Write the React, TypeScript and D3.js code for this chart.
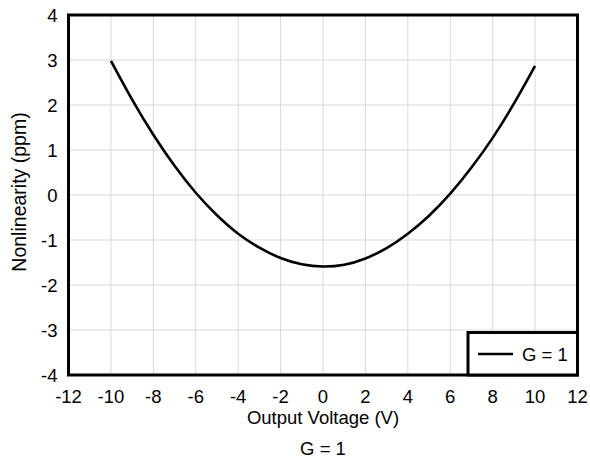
import React from "react";
import * as d3 from "d3";

const xValues = [-10, -9, -8, -7, -6, -5, -4, -3, -2, -1, 0, 1, 2, 3, 4, 5, 6, 7, 8, 9, 10];
const yValues = [2.98, 2.12, 1.34, 0.65, 0.05, -0.45, -0.86, -1.17, -1.4, -1.54, -1.59, -1.55, -1.41, -1.18, -0.86, -0.46, 0.03, 0.61, 1.27, 2.03, 2.87];
const xTicks = [-12, -10, -8, -6, -4, -2, 0, 2, 4, 6, 8, 10, 12];
const yTicks = [-4, -3, -2, -1, 0, 1, 2, 3, 4];
const seriesName = "G = 1";

const W = 590, H = 466;
const L = 68.5, R = 577.5, T = 15, B = 375;
const FONT = "'Liberation Sans', Arial, sans-serif";
const FS = 18.5;

export default function App() {
  const x = d3.scaleLinear().domain([-12, 12]).range([L, R]);
  const y = d3.scaleLinear().domain([-4, 4]).range([B, T]);
  const pts = xValues.map((v, i) => [v, yValues[i]] as [number, number]);
  const line = d3.line<[number, number]>().x(d => x(d[0])).y(d => y(d[1])).curve(d3.curveNatural);
  return (
    <svg width={W} height={H} style={{ position: "absolute", left: 0, top: 0, background: "#fff" }} fontFamily={FONT}>
      <rect x={0} y={0} width={W} height={H} fill="#fff" />
      {xTicks.map(t => (
        <line key={"gx" + t} x1={x(t)} x2={x(t)} y1={T} y2={B} stroke="#d9d9d9" strokeWidth={1} />
      ))}
      {yTicks.map(t => (
        <line key={"gy" + t} x1={L} x2={R} y1={y(t)} y2={y(t)} stroke="#d9d9d9" strokeWidth={1} />
      ))}
      <path d={line(pts) || ""} fill="none" stroke="#000" strokeWidth={2.6} />
      <rect x={L} y={T} width={R - L} height={B - T} fill="none" stroke="#000" strokeWidth={3} />
      {xTicks.map(t => (
        <text key={"tx" + t} x={x(t)} y={B + 28} textAnchor="middle" fontSize={FS} fill="#000">{t < 0 ? "-" + Math.abs(t) : t}</text>
      ))}
      {yTicks.map(t => (
        <text key={"ty" + t} x={L - 11} y={y(t) + 6.5} textAnchor="end" fontSize={FS} fill="#000">{t < 0 ? "-" + Math.abs(t) : t}</text>
      ))}
      <text x={(L + R) / 2} y={B + 49} textAnchor="middle" fontSize={FS} fill="#000">Output Voltage (V)</text>
      <text transform={`translate(26,192) rotate(-90)`} textAnchor="middle" fontSize={19.5} fill="#000">Nonlinearity (ppm)</text>
      <text x={(L + R) / 2} y={B + 80} textAnchor="middle" fontSize={FS} fill="#000">{seriesName}</text>
      <rect x={468} y={332.5} width={R - 468} height={B - 332.5} fill="#fff" stroke="#000" strokeWidth={3} />
      <line x1={478} x2={513} y1={354} y2={354} stroke="#000" strokeWidth={2.6} />
      <text x={522} y={360.5} fontSize={FS} fill="#000">{seriesName}</text>
    </svg>
  );
}
